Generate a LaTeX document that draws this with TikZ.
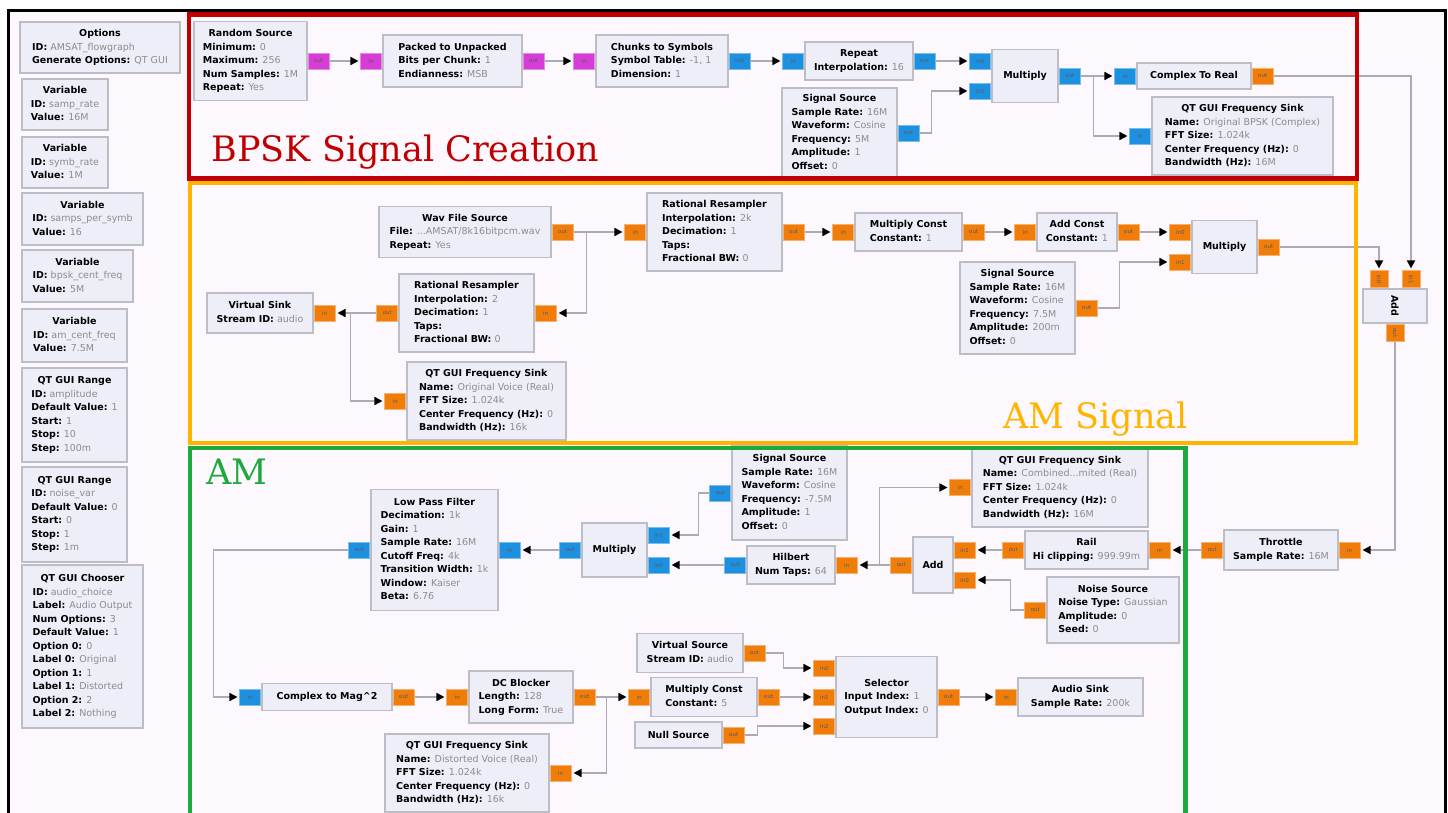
\documentclass[tikz,border=0pt]{standalone}
\usepackage{fontspec}
\setmainfont{DejaVu Sans}
\newfontfamily\grpfont{DejaVu Serif}
\usetikzlibrary{positioning,arrows.meta}

\definecolor{canvas}{HTML}{FDF8FD}
\definecolor{blkfill}{HTML}{EEEEF9}
\definecolor{blkdraw}{HTML}{BDBDC6}
\definecolor{wiregray}{HTML}{ABABB3}
\definecolor{valgray}{HTML}{8C8C8C}
\definecolor{fltport}{HTML}{F07D0A}
\definecolor{cpxport}{HTML}{1E90E0}
\definecolor{byteport}{HTML}{D63CD6}
\definecolor{bpskred}{HTML}{C00000}
\definecolor{amsigorange}{HTML}{FFB400}
\definecolor{amgreen}{HTML}{1FA83E}

\newcommand{\kv}[2]{\textbf{#1:} \textcolor{valgray}{#2}}
\newcommand{\blkt}[2]{\begin{tabular}{@{}l@{}}\multicolumn{1}{@{}c@{}}{\textbf{#1}}\\#2\end{tabular}}

\tikzset{
	blk/.style={draw=blkdraw, fill=blkfill, line width=1.5pt, inner sep=0pt, font=\fontsize{9.5}{13.5}\selectfont},
	port/.style={line width=0.8pt, minimum width=21pt, minimum height=16pt, inner sep=0pt, font=\fontsize{5.5}{6}\selectfont, text=black!65},
	fport/.style={port, fill=fltport, draw=fltport!60!white},
	cport/.style={port, fill=cpxport, draw=cpxport!60!white},
	bport/.style={port, fill=byteport, draw=byteport!60!white},
	vport/.style={fport, minimum width=18pt, minimum height=17pt},
	wire/.style={draw=wiregray, line width=1.6pt, -{Triangle[length=8pt,width=8pt,color=black]}, shorten >=2pt},
	grp/.style={line width=4.5pt},
	grplabel/.style={font=\grpfont\fontsize{35}{35}\selectfont, anchor=base west},
}

\begin{document}
\begin{tikzpicture}[x=1pt, y=-1pt]
	\useasboundingbox (0,0) rectangle (1448,813);
	\fill [white] (0,0) rectangle (1448,813);
	\fill [canvas] (8.5,10.5) rectangle (1445.5,813);
	\draw [line width=3pt] (8.5,813) -- (8.5,10.5) -- (1445.5,10.5) -- (1445.5,813);

	% variables
	\node (opts) [blk, minimum width=160pt, minimum height=51pt] at (100,47.5) {\blkt{Options}{\kv{ID}{AMSAT\_flowgraph}\\ \kv{Generate Options}{QT GUI}}};
	\node (sampvar) [blk, minimum width=86pt, minimum height=51pt] at (65,104.5) {\blkt{Variable}{\kv{ID}{samp\_rate}\\ \kv{Value}{16M}}};
	\node (symbvar) [blk, minimum width=86pt, minimum height=51pt] at (65,162.5) {\blkt{Variable}{\kv{ID}{symb\_rate}\\ \kv{Value}{1M}}};
	\node (spsvar) [blk, minimum width=121pt, minimum height=52pt] at (82.5,219) {\blkt{Variable}{\kv{ID}{samps\_per\_symb}\\ \kv{Value}{16}}};
	\node (bpskvar) [blk, minimum width=111pt, minimum height=52pt] at (77.5,276) {\blkt{Variable}{\kv{ID}{bpsk\_cent\_freq}\\ \kv{Value}{5M}}};
	\node (amvar) [blk, minimum width=105pt, minimum height=53pt] at (74.5,335.5) {\blkt{Variable}{\kv{ID}{am\_cent\_freq}\\ \kv{Value}{7.5M}}};
	\node (amprng) [blk, minimum width=105pt, minimum height=94pt] at (74.5,415) {\blkt{QT GUI Range}{\kv{ID}{amplitude}\\ \kv{Default Value}{1}\\ \kv{Start}{1}\\ \kv{Stop}{10}\\ \kv{Step}{100m}}};
	\node (noiserng) [blk, minimum width=105pt, minimum height=95pt] at (74.5,514.5) {\blkt{QT GUI Range}{\kv{ID}{noise\_var}\\ \kv{Default Value}{0}\\ \kv{Start}{0}\\ \kv{Stop}{1}\\ \kv{Step}{1m}}};
	\node (chooser) [blk, minimum width=121pt, minimum height=163pt] at (82.5,646.5) {\blkt{QT GUI Chooser}{\kv{ID}{audio\_choice}\\ \kv{Label}{Audio Output}\\ \kv{Num Options}{3}\\ \kv{Default Value}{1}\\ \kv{Option 0}{0}\\ \kv{Label 0}{Original}\\ \kv{Option 1}{1}\\ \kv{Label 1}{Distorted}\\ \kv{Option 2}{2}\\ \kv{Label 2}{Nothing}}};

	% BPSK signal creation
	\node (rsrc) [blk, minimum width=113pt, minimum height=79pt] at (250.5,61) {\blkt{Random Source}{\kv{Minimum}{0}\\ \kv{Maximum}{256}\\ \kv{Num Samples}{1M}\\ \kv{Repeat}{Yes}}};
	\node (p2u) [blk, minimum width=139pt, minimum height=52pt] at (452.5,61) {\blkt{Packed to Unpacked}{\kv{Bits per Chunk}{1}\\ \kv{Endianness}{MSB}}};
	\node (c2s) [blk, minimum width=132pt, minimum height=52pt] at (662,61) {\blkt{Chunks to Symbols}{\kv{Symbol Table}{-1, 1}\\ \kv{Dimension}{1}}};
	\node (rep) [blk, minimum width=108pt, minimum height=38pt] at (859,61) {\blkt{Repeat}{\kv{Interpolation}{16}}};
	\node (mul1) [blk, minimum width=66pt, minimum height=53pt] at (1025,76) {\textbf{Multiply}};
	\node (sig1) [blk, minimum width=115pt, minimum height=90pt] at (839.5,133) {\blkt{Signal Source}{\kv{Sample Rate}{16M}\\ \kv{Waveform}{Cosine}\\ \kv{Frequency}{5M}\\ \kv{Amplitude}{1}\\ \kv{Offset}{0}}};
	\node (c2r) [blk, minimum width=114pt, minimum height=26pt] at (1194,76) {\textbf{Complex To Real}};
	\node (fsk1) [blk, minimum width=181pt, minimum height=78pt] at (1242.5,136) {\blkt{QT GUI Frequency Sink}{\kv{Name}{Original BPSK (Complex)}\\ \kv{FFT Size}{1.024k}\\ \kv{Center Frequency (Hz)}{0}\\ \kv{Bandwidth (Hz)}{16M}}};

	\node (rsrc-out) [bport, right=0pt of rsrc] {out};
	\node (p2u-in) [bport, left=0pt of p2u] {in};
	\node (p2u-out) [bport, right=0pt of p2u] {out};
	\node (c2s-in) [bport, left=0pt of c2s] {in};
	\node (c2s-out) [cport, right=0pt of c2s] {out};
	\node (rep-in) [cport, left=0pt of rep] {in};
	\node (rep-out) [cport, right=0pt of rep] {out};
	\node (mul1-in0) [cport, left=0pt of mul1, yshift=15pt] {in0};
	\node (mul1-in1) [cport, left=0pt of mul1, yshift=-15pt] {in1};
	\node (mul1-out) [cport, right=0pt of mul1] {out};
	\node (sig1-out) [cport, right=0pt of sig1] {out};
	\node (c2r-in) [cport, left=0pt of c2r] {in};
	\node (c2r-out) [fport, right=0pt of c2r] {out};
	\node (fsk1-in) [cport, left=0pt of fsk1] {in};

	% AM signal
	\node (wav) [blk, minimum width=172pt, minimum height=51pt] at (465,232) {\blkt{Wav File Source}{\kv{File}{...AMSAT/8k16bitpcm.wav}\\ \kv{Repeat}{Yes}}};
	\node (rr1) [blk, minimum width=135pt, minimum height=78pt] at (466.5,313) {\blkt{Rational Resampler}{\kv{Interpolation}{2}\\ \kv{Decimation}{1}\\ \kv{Taps}{}\\ \kv{Fractional BW}{0}}};
	\node (vsink) [blk, minimum width=106pt, minimum height=40pt] at (260,313) {\blkt{Virtual Sink}{\kv{Stream ID}{audio}}};
	\node (fsk2) [blk, minimum width=159pt, minimum height=78pt] at (486.5,401) {\blkt{QT GUI Frequency Sink}{\kv{Name}{Original Voice (Real)}\\ \kv{FFT Size}{1.024k}\\ \kv{Center Frequency (Hz)}{0}\\ \kv{Bandwidth (Hz)}{16k}}};
	\node (rr2) [blk, minimum width=135pt, minimum height=78pt] at (714.5,232) {\blkt{Rational Resampler}{\kv{Interpolation}{2k}\\ \kv{Decimation}{1}\\ \kv{Taps}{}\\ \kv{Fractional BW}{0}}};
	\node (mc1) [blk, minimum width=107pt, minimum height=38pt] at (908.5,232) {\blkt{Multiply Const}{\kv{Constant}{1}}};
	\node (ac) [blk, minimum width=80pt, minimum height=38pt] at (1077,232) {\blkt{Add Const}{\kv{Constant}{1}}};
	\node (mul2) [blk, minimum width=65pt, minimum height=53pt] at (1224.5,247) {\textbf{Multiply}};
	\node (sig2) [blk, minimum width=115pt, minimum height=92pt] at (1017.5,308) {\blkt{Signal Source}{\kv{Sample Rate}{16M}\\ \kv{Waveform}{Cosine}\\ \kv{Frequency}{7.5M}\\ \kv{Amplitude}{200m}\\ \kv{Offset}{0}}};
	\node (add1) [blk, minimum width=64pt, minimum height=34pt] at (1395,306) {\rotatebox{-90}{\textbf{Add}}};

	\node (wav-out) [fport, right=0pt of wav] {out};
	\node (rr1-in) [fport, right=0pt of rr1] {in};
	\node (rr1-out) [fport, left=0pt of rr1] {out};
	\node (vsink-in) [fport, right=0pt of vsink] {in};
	\node (fsk2-in) [fport, left=0pt of fsk2] {in};
	\node (rr2-in) [fport, left=0pt of rr2] {in};
	\node (rr2-out) [fport, right=0pt of rr2] {out};
	\node (mc1-in) [fport, left=0pt of mc1] {in};
	\node (mc1-out) [fport, right=0pt of mc1] {out};
	\node (ac-in) [fport, left=0pt of ac] {in};
	\node (ac-out) [fport, right=0pt of ac] {out};
	\node (mul2-in0) [fport, left=0pt of mul2, yshift=15pt] {in0};
	\node (mul2-in1) [fport, left=0pt of mul2, yshift=-15pt] {in1};
	\node (mul2-out) [fport, right=0pt of mul2] {out};
	\node (sig2-out) [fport, right=0pt of sig2] {out};
	\node (add1-in0) [vport, above=0pt of add1, xshift=-16pt] {\rotatebox{-90}{in0}};
	\node (add1-in1) [vport, above=0pt of add1, xshift=16pt] {\rotatebox{-90}{in1}};
	\node (add1-out) [vport, below=0pt of add1] {\rotatebox{-90}{out}};

	% AM demodulation
	\node (lpf) [blk, minimum width=127pt, minimum height=121pt] at (434.5,550) {\blkt{Low Pass Filter}{\kv{Decimation}{1k}\\ \kv{Gain}{1}\\ \kv{Sample Rate}{16M}\\ \kv{Cutoff Freq}{4k}\\ \kv{Transition Width}{1k}\\ \kv{Window}{Kaiser}\\ \kv{Beta}{6.76}}};
	\node (mul3) [blk, minimum width=65pt, minimum height=54pt] at (614.5,550) {\textbf{Multiply}};
	\node (sig3) [blk, minimum width=115pt, minimum height=94pt] at (789.5,493) {\blkt{Signal Source}{\kv{Sample Rate}{16M}\\ \kv{Waveform}{Cosine}\\ \kv{Frequency}{-7.5M}\\ \kv{Amplitude}{1}\\ \kv{Offset}{0}}};
	\node (hil) [blk, minimum width=88pt, minimum height=38pt] at (791,565) {\blkt{Hilbert}{\kv{Num Taps}{64}}};
	\node (add2) [blk, minimum width=40pt, minimum height=56pt] at (933,565) {\textbf{Add}};
	\node (fsk3) [blk, minimum width=176pt, minimum height=79pt] at (1060,487.5) {\blkt{QT GUI Frequency Sink}{\kv{Name}{Combined...mited (Real)}\\ \kv{FFT Size}{1.024k}\\ \kv{Center Frequency (Hz)}{0}\\ \kv{Bandwidth (Hz)}{16M}}};
	\node (rail) [blk, minimum width=123pt, minimum height=38pt] at (1086.5,550) {\blkt{Rail}{\kv{Hi clipping}{999.99m}}};
	\node (noise) [blk, minimum width=132pt, minimum height=66pt] at (1113,610) {\blkt{Noise Source}{\kv{Noise Type}{Gaussian}\\ \kv{Amplitude}{0}\\ \kv{Seed}{0}}};
	\node (thr) [blk, minimum width=114pt, minimum height=40pt] at (1281,550) {\blkt{Throttle}{\kv{Sample Rate}{16M}}};
	\node (c2m) [blk, minimum width=130pt, minimum height=27pt] at (327,697) {\textbf{Complex to Mag\textasciicircum 2}};
	\node (dcb) [blk, minimum width=104pt, minimum height=52pt] at (521,697) {\blkt{DC Blocker}{\kv{Length}{128}\\ \kv{Long Form}{True}}};
	\node (fsk4) [blk, minimum width=164pt, minimum height=78pt] at (467,773) {\blkt{QT GUI Frequency Sink}{\kv{Name}{Distorted Voice (Real)}\\ \kv{FFT Size}{1.024k}\\ \kv{Center Frequency (Hz)}{0}\\ \kv{Bandwidth (Hz)}{16k}}};
	\node (vsrc) [blk, minimum width=106pt, minimum height=39pt] at (690,653) {\blkt{Virtual Source}{\kv{Stream ID}{audio}}};
	\node (mc2) [blk, minimum width=106pt, minimum height=39pt] at (704,697) {\blkt{Multiply Const}{\kv{Constant}{5}}};
	\node (nulls) [blk, minimum width=87pt, minimum height=26pt] at (678.5,735) {\textbf{Null Source}};
	\node (sel) [blk, minimum width=101pt, minimum height=81pt] at (886.5,697) {\blkt{Selector}{\kv{Input Index}{1}\\ \kv{Output Index}{0}}};
	\node (asink) [blk, minimum width=125pt, minimum height=38pt] at (1080.5,697) {\blkt{Audio Sink}{\kv{Sample Rate}{200k}}};

	\node (lpf-in) [cport, right=0pt of lpf] {in};
	\node (lpf-out) [cport, left=0pt of lpf] {out};
	\node (mul3-in1) [cport, right=0pt of mul3, yshift=15pt] {in1};
	\node (mul3-in0) [cport, right=0pt of mul3, yshift=-15pt] {in0};
	\node (mul3-out) [cport, left=0pt of mul3] {out};
	\node (sig3-out) [cport, left=0pt of sig3] {out};
	\node (hil-in) [fport, right=0pt of hil] {in};
	\node (hil-out) [cport, left=0pt of hil] {out};
	\node (add2-in1) [fport, right=0pt of add2, yshift=15pt] {in1};
	\node (add2-in0) [fport, right=0pt of add2, yshift=-15pt] {in0};
	\node (add2-out) [fport, left=0pt of add2] {out};
	\node (fsk3-in) [fport, left=0pt of fsk3] {in};
	\node (rail-in) [fport, right=0pt of rail] {in};
	\node (rail-out) [fport, left=0pt of rail] {out};
	\node (noise-out) [fport, left=0pt of noise] {out};
	\node (thr-in) [fport, right=0pt of thr] {in};
	\node (thr-out) [fport, left=0pt of thr] {out};
	\node (c2m-in) [cport, left=0pt of c2m] {in};
	\node (c2m-out) [fport, right=0pt of c2m] {out};
	\node (dcb-in) [fport, left=0pt of dcb] {in};
	\node (dcb-out) [fport, right=0pt of dcb] {out};
	\node (fsk4-in) [fport, right=0pt of fsk4] {in};
	\node (vsrc-out) [fport, right=0pt of vsrc] {out};
	\node (mc2-in) [fport, left=0pt of mc2] {in};
	\node (mc2-out) [fport, right=0pt of mc2] {out};
	\node (nulls-out) [fport, right=0pt of nulls] {out};
	\node (sel-in0) [fport, left=0pt of sel, yshift=29pt] {in0};
	\node (sel-in1) [fport, left=0pt of sel] {in1};
	\node (sel-in2) [fport, left=0pt of sel, yshift=-29pt] {in2};
	\node (sel-out) [fport, right=0pt of sel] {out};
	\node (asink-in) [fport, left=0pt of asink] {in};

	\draw [wire] (rsrc-out) -- (p2u-in);
	\draw [wire] (p2u-out) -- (c2s-in);
	\draw [wire] (c2s-out) -- (rep-in);
	\draw [wire] (rep-out) -- (mul1-in0);
	\draw [wire] (sig1-out.east) -- ++(12,0) |- (mul1-in1.west);
	\draw [wire] (mul1-out) -- (c2r-in);
	\draw [wire] (mul1-out.east) -- ++(13,0) |- (fsk1-in.west);
	\draw [wire] (c2r-out.east) -| (add1-in1.north);

	\draw [wire] (wav-out) -- (rr2-in);
	\draw [wire] (wav-out.east) -- ++(13,0) |- (rr1-in.east);
	\draw [wire] (rr1-out) -- (vsink-in);
	\draw [wire] (rr1-out.west) -- ++(-26,0) |- (fsk2-in.west);
	\draw [wire] (rr2-out) -- (mc1-in);
	\draw [wire] (mc1-out) -- (ac-in);
	\draw [wire] (ac-out) -- (mul2-in0);
	\draw [wire] (sig2-out.east) -- ++(22,0) |- (mul2-in1.west);
	\draw [wire] (mul2-out.east) -| (add1-in0.north);
	\draw [wire] (add1-out.south) |- (thr-in.east);

	\draw [wire] (thr-out) -- (rail-in);
	\draw [wire] (rail-out) -- (add2-in1);
	\draw [wire] (noise-out.west) -- ++(-14,0) |- (add2-in0.east);
	\draw [wire] (add2-out) -- (hil-in);
	\draw [wire] (add2-out.west) -- ++(-11,0) |- (fsk3-in.west);
	\draw [wire] (hil-out) -- (mul3-in0);
	\draw [wire] (sig3-out.west) -- ++(-11,0) |- (mul3-in1.east);
	\draw [wire] (mul3-out) -- (lpf-in);
	\draw [wire] (lpf-out.west) -- ++(-135,0) |- (c2m-in.west);
	\draw [wire] (c2m-out) -- (dcb-in);
	\draw [wire] (dcb-out) -- (mc2-in);
	\draw [wire] (dcb-out.east) -- ++(11,0) |- (fsk4-in.east);
	\draw [wire] (vsrc-out.east) -- ++(18,0) |- (sel-in0.west);
	\draw [wire] (mc2-out) -- (sel-in1);
	\draw [wire] (nulls-out.east) -- ++(13,0) |- (sel-in2.west);
	\draw [wire] (sel-out) -- (asink-in);

	% groups
	\draw [grp, bpskred] (189,14.5) rectangle (1357,178.5);
	\draw [grp, amsigorange] (190,183) rectangle (1356,443);
	\draw [grp, amgreen] (190,448) rectangle (1185.5,830);
	\node (bpsklbl) [grplabel, text=bpskred] at (208,162) {BPSK Signal Creation};
	\node (amsiglbl) [grplabel, text=amsigorange] at (1000,428) {AM Signal};
	\node (amlbl) [grplabel, text=amgreen] at (203,484) {AM};
\end{tikzpicture}
\end{document}
